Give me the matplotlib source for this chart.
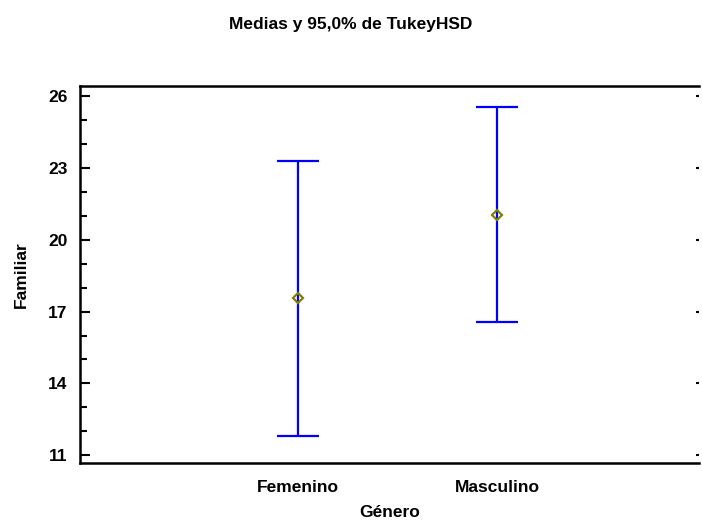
import numpy as np
import matplotlib.pyplot as plt
from matplotlib.ticker import MultipleLocator

plt.rcParams['font.family'] = ['Liberation Sans', 'DejaVu Sans']

# group means and Tukey HSD interval limits
generos = ['Femenino', 'Masculino']
medias = [17.55, 21.05]
limite_inf = [11.8, 16.55]
limite_sup = [23.28, 25.55]

medias = np.array(medias)
err = np.vstack([medias - np.array(limite_inf), np.array(limite_sup) - medias])
xpos = np.arange(1, len(generos) + 1)

fig = plt.figure(figsize=(7.02, 5.21), dpi=100)
ax = fig.add_axes([0.114, 0.111, 0.882, 0.724])

ax.errorbar(xpos, medias, yerr=err, fmt='none', ecolor='#0000ff',
            elinewidth=1.6, capsize=15, capthick=1.6)
ax.plot(xpos, medias, linestyle='none', marker='D', markersize=5,
        markerfacecolor='none', markeredgecolor='#808000', markeredgewidth=1.6)

ax.set_xlim(-0.09, 3.01)
ax.set_ylim(10.67, 26.42)
ax.set_xticks(xpos)
ax.set_xticklabels(generos, fontsize=12.5, fontweight='bold')
ax.tick_params(axis='x', length=0, pad=12)

ax.yaxis.set_minor_locator(MultipleLocator(1))
ax.set_yticks(np.arange(11, 27, 3))
ax.tick_params(axis='y', which='major', direction='in', length=7, width=1.5,
               labelsize=12.5, pad=9)
ax.tick_params(axis='y', which='minor', direction='in', length=5, width=1.5)
# short stubs on the open right side
ax.tick_params(axis='y', which='major', right=True)
for t in ax.yaxis.get_major_ticks():
    t.tick2line.set_markersize(2.5)
for lab in ax.get_yticklabels():
    lab.set_fontweight('bold')

for side in ['left', 'top', 'bottom']:
    ax.spines[side].set_linewidth(1.8)
ax.spines['right'].set_visible(False)

ax.set_xlabel('Género', fontsize=12.5, fontweight='bold', labelpad=7)
ax.set_ylabel('Familiar', fontsize=12.5, fontweight='bold', labelpad=14)
fig.suptitle('Medias y 95,0% de TukeyHSD', fontsize=12.5, fontweight='bold',
             y=0.968)

fig.savefig('out.png', dpi=100)
